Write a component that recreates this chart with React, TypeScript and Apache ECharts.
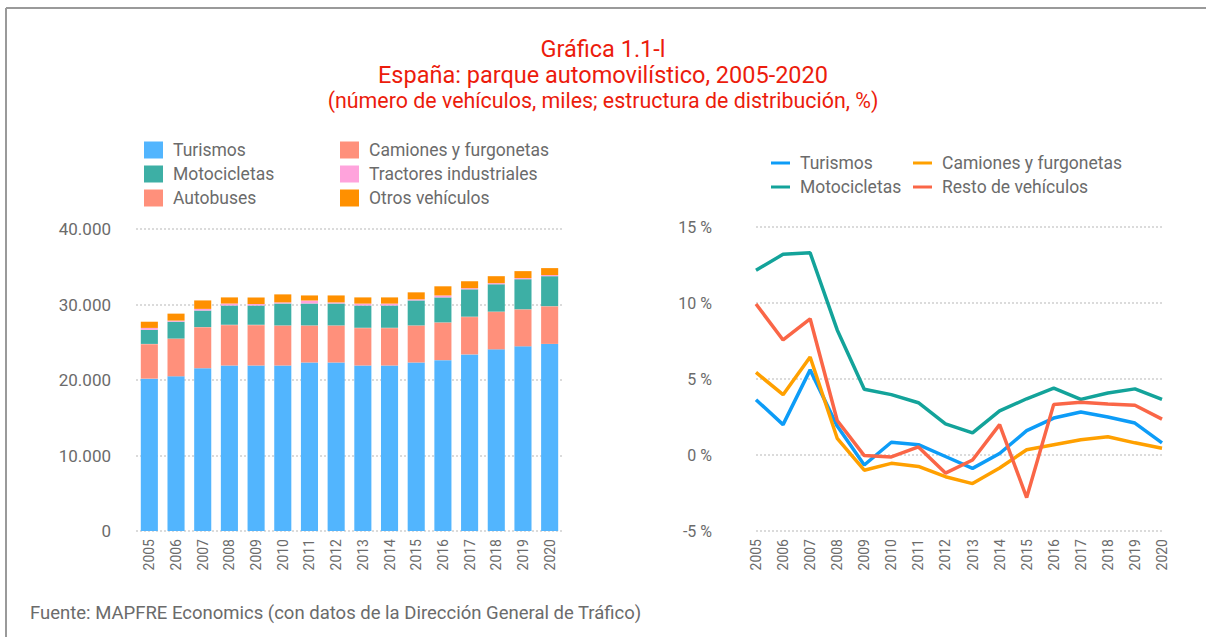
import React, { useEffect, useRef } from "react";
import * as echarts from "echarts";

const years = ["2005","2006","2007","2008","2009","2010","2011","2012","2013","2014","2015","2016","2017","2018","2019","2020"];

// Left chart: number of vehicles (thousands)
const turismos = [20180, 20490, 21560, 21920, 21920, 21920, 22320, 22320, 21920, 21920, 22320, 22630, 23390, 24060, 24460, 24780];
const camiones = [4540, 4940, 5390, 5340, 5340, 5250, 4850, 4850, 4940, 4940, 4850, 4940, 4940, 4940, 4850, 4940];
const autobuses = [60, 60, 60, 60, 60, 60, 60, 60, 60, 60, 60, 60, 60, 60, 60, 60];
const motocicletas = [1870, 2230, 2190, 2550, 2550, 2900, 2900, 2900, 2950, 2950, 3310, 3310, 3620, 3620, 3980, 3970];
const tractores = [250, 150, 220, 260, 200, 150, 400, 150, 250, 250, 150, 260, 150, 150, 150, 150];
const otros = [820, 920, 1120, 810, 870, 1060, 670, 920, 820, 820, 920, 1210, 920, 920, 920, 920];

// Right chart: growth rates (%)
const gTurismos = [3.64, 2.0, 5.6, 1.9, -0.66, 0.84, 0.68, -0.1, -0.88, 0.1, 1.6, 2.43, 2.83, 2.5, 2.1, 0.8];
const gMotos = [12.16, 13.2, 13.3, 8.23, 4.33, 3.97, 3.44, 2.05, 1.46, 2.9, 3.7, 4.4, 3.66, 4.08, 4.35, 3.66];
const gCamiones = [5.43, 3.97, 6.45, 1.1, -1.0, -0.55, -0.75, -1.43, -1.88, -0.86, 0.35, 0.68, 1.0, 1.2, 0.8, 0.44];
const gResto = [9.93, 7.57, 8.96, 2.27, -0.04, -0.13, 0.53, -1.19, -0.33, 2.0, -2.8, 3.33, 3.47, 3.36, 3.27, 2.36];

const FONT = "Roboto, 'Noto Sans', sans-serif";
const GRAY = "#6b6b6b";
const RED = "#ec1c0c";

const C = {
  turismos: "#52b5fe",
  motos: "#3dafa5",
  camiones: "#ff907b",
  autobuses: "#ff907b",
  tractores: "#ffa3dc",
  otros: "#ff9000",
  lTurismos: "#0d9cf7",
  lMotos: "#13a39a",
  lCamiones: "#ffa000",
  lResto: "#fa6647",
};

function fmtThousands(v: number): string {
  const s = String(Math.round(v));
  return s.replace(/\B(?=(\d{3})+(?!\d))/g, ".");
}

export default function App() {
  const ref = useRef<HTMLDivElement>(null);
  useEffect(() => {
    if (!ref.current) return;
    const chart = echarts.init(ref.current, undefined, { renderer: "svg" });
    const gridLine = { show: true, lineStyle: { color: "#cfcfcf", type: [2, 2] as any, width: 1.5 } };
    const barSeries = (name: string, data: number[], color: string) => ({
      name,
      type: "bar",
      stack: "total",
      xAxisIndex: 0,
      yAxisIndex: 0,
      barWidth: "64%",
      itemStyle: { color },
      data,
    });
    const lineSeries = (name: string, data: number[], color: string) => ({
      name,
      type: "line",
      xAxisIndex: 1,
      yAxisIndex: 1,
      symbol: "none",
      lineStyle: { color, width: 3.5 },
      itemStyle: { color },
      data,
    });
    const legendText = { color: GRAY, fontSize: 17.5, fontFamily: FONT, lineHeight: 17, padding: [0, 0, 0, 5] };
    const titleStyle = (size: number) => ({ color: RED, fontSize: size, fontWeight: "normal" as const, fontFamily: FONT });
    chart.setOption({
      animation: false,
      backgroundColor: "#ffffff",
      textStyle: { fontFamily: FONT },
      title: [
        { text: "Gráfica 1.1-l", left: "center", top: 32, textStyle: titleStyle(23.5) },
        { text: "España: parque automovilístico, 2005-2020", left: "center", top: 58, textStyle: titleStyle(23.5) },
        { text: "(número de vehículos, miles; estructura de distribución, %)", left: "center", top: 85, textStyle: titleStyle(21.4) },
      ],
      legend: [
        {
          orient: "vertical", left: 144, top: 141, itemWidth: 19, itemHeight: 17, itemGap: 6,
          icon: "rect", textStyle: legendText, padding: 0,
          data: ["Turismos", "Motocicletas", "Autobuses"],
        },
        {
          orient: "vertical", left: 340, top: 141, itemWidth: 19, itemHeight: 17, itemGap: 6,
          icon: "rect", textStyle: legendText, padding: 0,
          data: ["Camiones y furgonetas", "Tractores industriales", "Otros vehículos"],
        },
        {
          orient: "vertical", left: 771, top: 154, itemWidth: 19, itemHeight: 3, itemGap: 6,
          icon: "rect", textStyle: legendText, padding: 0,
          data: ["Turismos ", "Motocicletas "],
        },
        {
          orient: "vertical", left: 913, top: 154, itemWidth: 19, itemHeight: 3, itemGap: 6,
          icon: "rect", textStyle: legendText, padding: 0,
          data: ["Camiones y furgonetas ", "Resto de vehículos"],
        },
      ],
      grid: [
        { left: 136, width: 427, top: 229, height: 302 },
        { left: 756, width: 406, top: 227, height: 304 },
      ],
      xAxis: [
        {
          type: "category", gridIndex: 0, data: years,
          axisLine: { show: false }, axisTick: { show: false },
          axisLabel: { rotate: 90, color: GRAY, fontSize: 14, margin: 8, fontFamily: FONT },
        },
        {
          type: "category", gridIndex: 1, data: years, boundaryGap: false,
          axisLine: { show: false }, axisTick: { show: false },
          axisLabel: { rotate: 90, color: GRAY, fontSize: 14, margin: 8, fontFamily: FONT },
        },
      ],
      yAxis: [
        {
          type: "value", gridIndex: 0, min: 0, max: 40000, interval: 10000,
          axisLine: { show: false }, axisTick: { show: false },
          splitLine: gridLine,
          axisLabel: { color: GRAY, fontSize: 17, margin: 25, fontFamily: FONT, formatter: (v: number) => fmtThousands(v) },
        },
        {
          type: "value", gridIndex: 1, min: -5, max: 15, interval: 5,
          axisLine: { show: false }, axisTick: { show: false },
          splitLine: gridLine,
          axisLabel: { color: GRAY, fontSize: 16, margin: 44, fontFamily: FONT, formatter: (v: number) => `${v} %` },
        },
      ],
      series: [
        barSeries("Turismos", turismos, C.turismos),
        barSeries("Camiones y furgonetas", camiones, C.camiones),
        barSeries("Autobuses", autobuses, C.autobuses),
        barSeries("Motocicletas", motocicletas, C.motos),
        barSeries("Tractores industriales", tractores, C.tractores),
        barSeries("Otros vehículos", otros, C.otros),
        lineSeries("Turismos ", gTurismos, C.lTurismos),
        lineSeries("Motocicletas ", gMotos, C.lMotos),
        lineSeries("Camiones y furgonetas ", gCamiones, C.lCamiones),
        lineSeries("Resto de vehículos", gResto, C.lResto),
      ],
      graphic: [
        { type: "line", shape: { x1: 6, y1: 8, x2: 1206, y2: 8 }, style: { stroke: "#9a9a9a", lineWidth: 2 } },
        { type: "line", shape: { x1: 6, y1: 8, x2: 6, y2: 637 }, style: { stroke: "#9a9a9a", lineWidth: 2 } },
        {
          type: "text", left: 30, top: 603,
          style: { text: "Fuente: MAPFRE Economics (con datos de la Dirección General de Tráfico)", fill: GRAY, fontSize: 18.5, fontFamily: FONT },
        },
      ],
    });
    return () => chart.dispose();
  }, []);
  return (
    <div
      ref={ref}
      style={{ position: "fixed", left: 0, top: 0, width: 1206, height: 637, background: "#fff" }}
    />
  );
}
